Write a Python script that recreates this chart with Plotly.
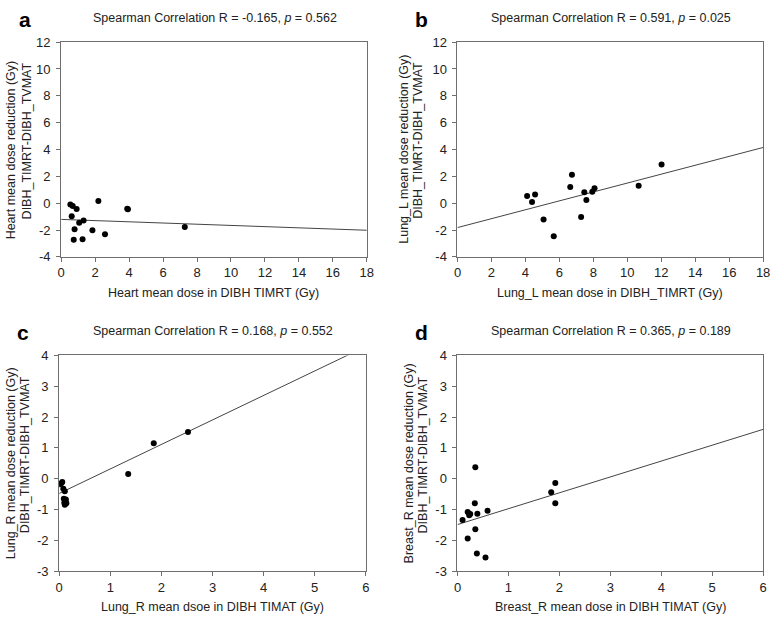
import plotly.graph_objects as go

# panel a - heart
heart_dose = [0.54, 0.68, 0.91, 0.62, 1.06, 1.32, 0.79, 0.74, 1.26, 1.84, 2.19, 2.58, 3.89, 3.93, 7.28]
heart_red = [-0.10, -0.22, -0.44, -0.97, -1.46, -1.29, -1.94, -2.72, -2.69, -2.02, 0.16, -2.31, -0.42, -0.45, -1.77]
heart_fit_x = [0, 18]
heart_fit_y = [-1.21, -2.02]

# panel b - left lung
lungl_dose = [4.10, 4.57, 4.39, 5.07, 5.67, 6.64, 6.74, 7.28, 7.47, 7.59, 7.94, 8.07, 10.67, 12.02]
lungl_red = [0.53, 0.65, 0.09, -1.22, -2.47, 1.21, 2.11, -1.04, 0.82, 0.24, 0.85, 1.11, 1.29, 2.89]
lungl_fit_x = [0, 18]
lungl_fit_y = [-1.82, 4.15]

# panel c - right lung
lungr_dose = [0.01, 0.06, 0.08, 0.11, 0.09, 0.12, 0.14, 0.11, 0.13, 0.10, 0.04, 1.35, 1.85, 2.52]
lungr_red = [-0.18, -0.11, -0.33, -0.41, -0.65, -0.72, -0.80, -0.85, -0.68, -0.78, -0.15, 0.15, 1.15, 1.51]
lungr_fit_x = [0, 6]
lungr_fit_y = [-0.48, 4.29]

# panel d - right breast
breast_dose = [0.10, 0.20, 0.20, 0.25, 0.23, 0.35, 0.34, 0.39, 0.35, 0.38, 0.55, 0.59, 1.84, 1.92, 1.92]
breast_red = [-1.34, -1.94, -1.08, -1.15, -1.19, 0.37, -0.80, -1.14, -1.64, -2.43, -2.56, -1.04, -0.44, -0.14, -0.80]
breast_fit_x = [0, 6]
breast_fit_y = [-1.49, 1.60]

big_ticks = [-4, -2, 0, 2, 4, 6, 8, 10, 12]
big_xticks = [0, 2, 4, 6, 8, 10, 12, 14, 16, 18]
small_ticks = [-3, -2, -1, 0, 1, 2, 3, 4]
small_xticks = [0, 1, 2, 3, 4, 5, 6]

letters = ["a", "b", "c", "d"]
titles = [
    "Spearman Correlation R = -0.165, <i>p</i> = 0.562",
    "Spearman Correlation R = 0.591, <i>p</i> = 0.025",
    "Spearman Correlation R = 0.168, <i>p</i> = 0.552",
    "Spearman Correlation R = 0.365, <i>p</i> = 0.189",
]
xtitles = [
    "Heart mean dose in DIBH TIMRT (Gy)",
    "Lung_L mean dose in DIBH_TIMRT (Gy)",
    "Lung_R mean dsoe in DIBH TIMAT (Gy)",
    "Breast_R mean dose in DIBH TIMAT (Gy)",
]
ytitles = [
    "Heart mean dose reduction (Gy)",
    "Lung_L mean dose reduction (Gy)",
    "Lung_R mean dose reduction (Gy)",
    "Breast_R mean dose reduction (Gy)",
]
ysub = "DIBH_TIMRT-DIBH_TVMAT"

W, H = 778, 623
FONT = "Liberation Sans, Arial, sans-serif"
TXT = "#222222"
AX = "#6e6e6e"

panels = [
    (heart_dose, heart_red, heart_fit_x, heart_fit_y, big_xticks, big_ticks),
    (lungl_dose, lungl_red, lungl_fit_x, lungl_fit_y, big_xticks, big_ticks),
    (lungr_dose, lungr_red, lungr_fit_x, lungr_fit_y, small_xticks, small_ticks),
    (breast_dose, breast_red, breast_fit_x, breast_fit_y, small_xticks, small_ticks),
]

# plot area boxes in pixels (left, right, top, bottom)
boxes = [(58, 368, 36, 256), (460, 770, 36, 256), (56, 367, 357, 578), (460, 770, 357, 578)]
# x offsets of the two y-title lines from the left axis
ytitle_off = [(50, 35), (54, 40), (49, 34), (49, 35)]


def note(text, px, py, size, angle=0, color=TXT):
    return dict(text=text, x=px / W, y=1 - py / H, xref="paper", yref="paper",
                xanchor="center", yanchor="middle", showarrow=False, textangle=angle,
                font=dict(family=FONT, size=size, color=color))


fig = go.Figure()
annotations = []
for i, (xs, ys, fx, fy, xt, yt) in enumerate(panels):
    n = "" if i == 0 else str(i + 1)
    l, r, t, b = boxes[i]
    fig.add_trace(go.Scatter(x=fx, y=fy, mode="lines", line=dict(color="#444444", width=1),
                             xaxis="x" + n, yaxis="y" + n, showlegend=False, hoverinfo="skip"))
    fig.add_trace(go.Scatter(x=xs, y=ys, mode="markers", marker=dict(color="black", size=6),
                             xaxis="x" + n, yaxis="y" + n, showlegend=False))
    axis_style = dict(showline=True, linecolor=AX, linewidth=1, mirror=True, ticks="outside",
                      ticklen=4, tickcolor=AX, showgrid=False, zeroline=False,
                      tickfont=dict(family=FONT, size=13, color=TXT))
    fig.layout["xaxis" + n] = dict(axis_style, domain=[l / W, r / W], range=[xt[0], xt[-1]],
                                   tickvals=xt, ticktext=[str(v) for v in xt],
                                   anchor="y" + n)
    fig.layout["yaxis" + n] = dict(axis_style, domain=[1 - b / H, 1 - t / H], range=[yt[0], yt[-1]],
                                   tickvals=yt, ticktext=[str(v) for v in yt],
                                   anchor="x" + n, ticklabelstandoff=3)
    cx = (l + r) / 2
    cy = (t + b) / 2
    o1, o2 = ytitle_off[i]
    annotations.append(note(titles[i], cx + 1, t - 25, 12.5))
    annotations.append(note("<b>" + letters[i] + "</b>", l - 37, t - 23, 21, color="black"))
    annotations.append(note(xtitles[i], cx, b + 37, 12.5))
    annotations.append(note(ytitles[i], l - o1, cy, 12.5, angle=-90))
    annotations.append(note(ysub, l - o2, cy - 9, 12.5, angle=-90))

fig.update_layout(width=W, height=H, margin=dict(l=0, r=0, t=0, b=0),
                  plot_bgcolor="white", paper_bgcolor="white", annotations=annotations)

fig.write_html("out.html", config={"displayModeBar": False},
               post_script="document.body.style.margin='0';")
